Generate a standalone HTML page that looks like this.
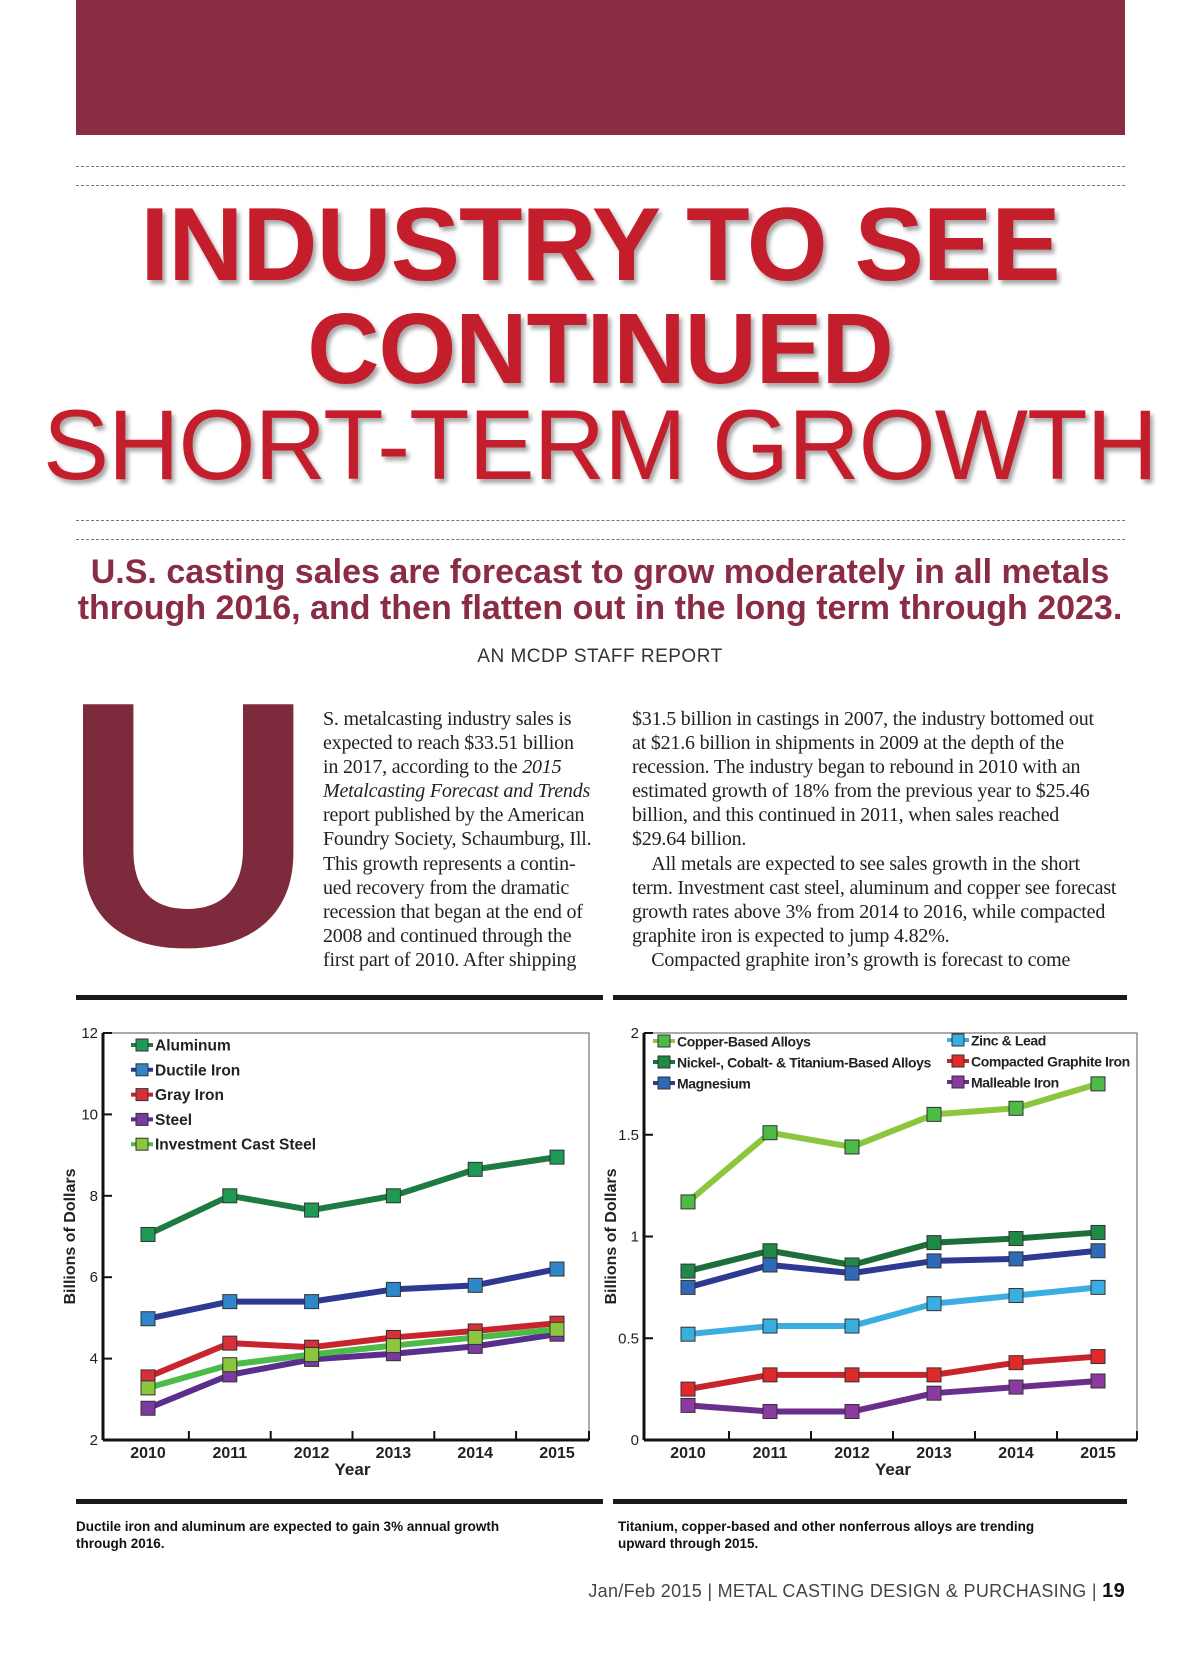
<!DOCTYPE html>
<html><head><meta charset="utf-8">
<style>
body{margin:0;width:1200px;height:1655px;background:#fff;position:relative;overflow:hidden;font-family:"Liberation Sans",sans-serif}
.a{position:absolute}
.dash{position:absolute;left:76px;width:1049px;border-top:1.5px dashed #777;height:0}
.title{position:absolute;left:0;width:1200px;text-align:center;color:#c41e2c;text-shadow:3px 4px 4px rgba(0,0,0,.35);white-space:nowrap}
.col{position:absolute;font-family:"Liberation Serif",serif;font-size:20px;line-height:24.1px;color:#222;letter-spacing:-0.2px;white-space:nowrap}
.bar{position:absolute;height:5px;background:#1a1a1a}
.cap{position:absolute;font-size:13.5px;font-weight:bold;line-height:17px;color:#111}
svg text{font-family:"Liberation Sans",sans-serif}
</style></head><body>
<div class="a" style="left:76px;top:0;width:1049px;height:135px;background:#8a2c44"></div>
<div class="dash" style="top:166px"></div>
<div class="dash" style="top:185px"></div>
<div class="title" style="top:190px;font-size:104px;font-weight:bold;line-height:110px;letter-spacing:-1px">INDUSTRY TO SEE</div>
<div class="title" style="top:294px;font-size:100px;font-weight:bold;line-height:110px;letter-spacing:-1px">CONTINUED</div>
<div class="title" style="top:390px;font-size:99px;line-height:110px;letter-spacing:-1px">SHORT-TERM GROWTH</div>
<div class="dash" style="top:520px"></div>
<div class="dash" style="top:539px"></div>
<div class="a" style="left:0;width:1200px;top:554px;text-align:center;color:#8a2c44;font-weight:bold;font-size:34px;line-height:36px;white-space:nowrap">U.S. casting sales are forecast to grow moderately in all metals<br>through 2016, and then flatten out in the long term through 2023.</div>
<div class="a" style="left:0;width:1200px;top:646px;text-align:center;color:#333;font-size:19px;letter-spacing:.5px">AN MCDP STAFF REPORT</div>
<div class="a" style="left:62px;top:645px;width:222px;text-align:center;font-size:350px;font-weight:bold;line-height:360px;color:#7e2a3d">U</div>
<div class="col" style="left:323px;top:707px">S. metalcasting industry sales is<br>expected to reach $33.51 billion<br>in 2017, according to the <i>2015</i><br><i>Metalcasting Forecast and Trends</i><br>report published by the American<br>Foundry Society, Schaumburg, Ill.<br>This growth represents a contin-<br>ued recovery from the dramatic<br>recession that began at the end of<br>2008 and continued through the<br>first part of 2010. After shipping</div>
<div class="col" style="left:632px;top:707px">$31.5 billion in castings in 2007, the industry bottomed out<br>at $21.6 billion in shipments in 2009 at the depth of the<br>recession. The industry began to rebound in 2010 with an<br>estimated growth of 18% from the previous year to $25.46<br>billion, and this continued in 2011, when sales reached<br>$29.64 billion.<br>&nbsp;&nbsp;&nbsp;&nbsp;All metals are expected to see sales growth in the short<br>term. Investment cast steel, aluminum and copper see forecast<br>growth rates above 3% from 2014 to 2016, while compacted<br>graphite iron is expected to jump 4.82%.<br>&nbsp;&nbsp;&nbsp;&nbsp;Compacted graphite iron’s growth is forecast to come</div>
<div class="bar" style="left:76px;top:995px;width:527px"></div>
<div class="bar" style="left:613px;top:995px;width:514px"></div>
<div class="bar" style="left:76px;top:1499px;width:527px"></div>
<div class="bar" style="left:613px;top:1499px;width:514px"></div>
<div class="cap" style="left:76px;top:1518px">Ductile iron and aluminum are expected to gain 3% annual growth<br>through 2016.</div>
<div class="cap" style="left:618px;top:1518px">Titanium, copper-based and other nonferrous alloys are trending<br>upward through 2015.</div>
<div class="a" style="right:75px;top:1580px;font-size:18px;color:#444;letter-spacing:.3px">Jan/Feb 2015 | METAL CASTING DESIGN &amp; PURCHASING | <b style="color:#111;font-size:20px">19</b></div>

<svg class="a" style="left:0;top:0" width="1200" height="1655" id="charts"></svg>
<script>
const years=[2010,2011,2012,2013,2014,2015];
const leftNames=["Aluminum","Ductile Iron","Gray Iron","Steel","Investment Cast Steel"];
const aluminum=[7.05,8.0,7.65,8.0,8.65,8.95];
const ductileIron=[4.98,5.4,5.4,5.7,5.8,6.2];
const grayIron=[3.55,4.38,4.28,4.52,4.68,4.87];
const steel=[2.78,3.6,3.98,4.12,4.3,4.6];
const investmentCastSteel=[3.28,3.85,4.1,4.32,4.52,4.72];
const leftTicks=[2,4,6,8,10,12];
const rightNames=["Copper-Based Alloys","Nickel-, Cobalt- & Titanium-Based Alloys","Magnesium","Zinc & Lead","Compacted Graphite Iron","Malleable Iron"];
const copper=[1.17,1.51,1.44,1.6,1.63,1.75];
const nickel=[0.83,0.93,0.86,0.97,0.99,1.02];
const magnesium=[0.75,0.86,0.82,0.88,0.89,0.93];
const zincLead=[0.52,0.56,0.56,0.67,0.71,0.75];
const cgi=[0.25,0.32,0.32,0.32,0.38,0.41];
const malleable=[0.17,0.14,0.14,0.23,0.26,0.29];
const rightTicks=[0,0.5,1,1.5,2];
const rightTickLabels=["0","0.5","1","1.5","2"];

const svg=document.getElementById('charts');
const NS='http://www.w3.org/2000/svg';
function mk(tag,attrs,txt){const e=document.createElementNS(NS,tag);for(const k in attrs)e.setAttribute(k,attrs[k]);if(txt!==undefined)e.textContent=txt;svg.appendChild(e);return e;}

function chart(cfg){
  const {L,R,T,B,x0,x1,ymin,ymax,ticks,tlabels,series,name}=cfg;
  const X=i=>x0+(x1-x0)*i/(years.length-1);
  const Y=v=>B-(v-ymin)/(ymax-ymin)*(B-T);
  let e=mk('rect',{x:L,y:T,width:R-L,height:B-T,fill:'none',stroke:'#555','stroke-width':1});
  
  
  e=mk('line',{x1:L,y1:T,x2:L,y2:B,stroke:'#111','stroke-width':3});
  
  
  e=mk('line',{x1:L,y1:B,x2:R,y2:B,stroke:'#111','stroke-width':3});
  
  
  const step=(x1-x0)/(years.length-1);
  for(let i=0;i<years.length;i++){
    const tx=Math.min(X(i)+step/2,R);
    e=mk('line',{x1:tx,y1:B,x2:tx,y2:B-9,stroke:'#111','stroke-width':2});
    
    
    e=mk('text',{x:X(i),y:B+18,'text-anchor':'middle','font-size':16,'font-weight':'bold',fill:'#222'},String(years[i]));
    
    
  }
  ticks.forEach((t,i)=>{
    e=mk('line',{x1:L,y1:Y(t),x2:L+9,y2:Y(t),stroke:'#111','stroke-width':2});
    
    
    e=mk('text',{x:L-5,y:Y(t)+5,'text-anchor':'end','font-size':15,fill:'#222'},tlabels[i]);
    
    
  });
  e=mk('text',{x:(x0+x1)/2,y:B+35,'text-anchor':'middle','font-size':17,'font-weight':'bold',fill:'#222'},'Year');
  
  
  e=mk('text',{x:0,y:0,'text-anchor':'middle','font-size':16,'font-weight':'bold',fill:'#222',transform:`translate(${L-28},${(T+B)/2}) rotate(-90)`},'Billions of Dollars');
  
  
  series.forEach(s=>{
    const pts=s.v.map((v,i)=>X(i)+','+Y(v)).join(' ');
    e=mk('polyline',{points:pts,fill:'none',stroke:s.line,'stroke-width':6,'stroke-linejoin':'round'});
    
    
  });
  series.forEach(s=>{
    s.v.forEach((v,i)=>{
      e=mk('rect',{x:X(i)-7,y:Y(v)-7,width:14,height:14,fill:s.mark,stroke:'#333','stroke-width':1});
      
      
    });
  });
  series.forEach(s=>{
    e=mk('line',{x1:s.lx-11,y1:s.ly,x2:s.lx+11,y2:s.ly,stroke:s.line,'stroke-width':4});
    
    
    e=mk('rect',{x:s.lx-6,y:s.ly-6,width:12,height:12,fill:s.mark,stroke:'#333','stroke-width':1});
    
    
    e=mk('text',{x:s.lx+13,y:s.ly+5.5,'font-size':cfg.lfs,'font-weight':'bold',fill:'#222','letter-spacing':cfg.lls},s.name);
    
    
  });
}
const lc=[["#1d7a42","#1f9a55"],["#2e3a92","#2f86c8"],["#c8242e","#d8303a"],["#5a2e8c","#7a3aa0"],["#4cbb48","#8cc63f"]];
const lv=[aluminum,ductileIron,grayIron,steel,investmentCastSteel];
chart({name:'left-chart',L:103,R:589,T:1033,B:1440,x0:148,x1:557,ymin:2,ymax:12,ticks:leftTicks,tlabels:leftTicks.map(String),lfs:15.5,lls:0,
  series:lv.map((v,i)=>({id:'s'+i,name:leftNames[i],v:v,line:lc[i][0],mark:lc[i][1],lx:142,ly:1045+i*24.8}))});
const rc=[["#8cc63f","#4cbb48"],["#1d6e3a","#1f8a45"],["#2e3a92","#2f6ab8"],["#3aaee0","#3aaee0"],["#c8242e","#e02a2a"],["#6a2e8c","#8a3aa0"]];
const rv=[copper,nickel,magnesium,zincLead,cgi,malleable];
const rpos=[[664,1041],[664,1062],[664,1083],[958,1040],[958,1061],[958,1082]];
chart({name:'right-chart',L:644,R:1137,T:1033,B:1440,x0:688,x1:1098,ymin:0,ymax:2,ticks:rightTicks,tlabels:rightTickLabels,lfs:14,lls:-0.4,
  series:rv.map((v,i)=>({id:'r'+i,name:rightNames[i],v:v,line:rc[i][0],mark:rc[i][1],lx:rpos[i][0],ly:rpos[i][1]}))});
</script>
</body></html>
